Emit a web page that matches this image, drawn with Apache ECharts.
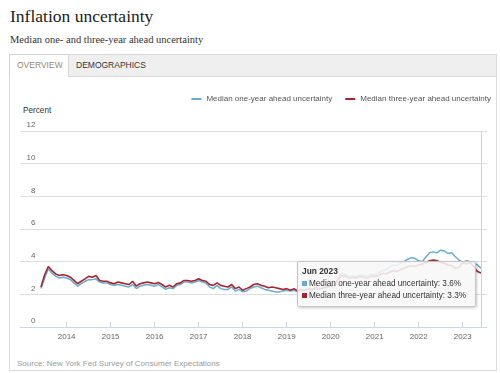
<!DOCTYPE html>
<html>
<head>
<meta charset="utf-8">
<script src="https://cdn.jsdelivr.net/npm/echarts@6/dist/echarts.min.js"></script>
<style>
  html, body { margin: 0; padding: 0; background: #fff; }
  body { width: 500px; height: 373px; position: relative; overflow: hidden; font-family: 'Liberation Sans', Arial, sans-serif; }
  .abs { position: absolute; white-space: nowrap; }
  #title { left: 10px; top: 5px; font: 17.5px/22px 'Liberation Serif', serif; color: #222; }
  #subtitle { left: 10px; top: 33px; font: 10.5px/13px 'Liberation Serif', serif; color: #333; }
  #tabbar { left: 9px; top: 54px; width: 486px; height: 21px; background: #efefef; border: 1px solid #d9d9d9; }
  #tab1 { left: 9px; top: 54px; width: 58px; height: 22px; background: #fff; border: 1px solid #d5d5d5; border-bottom: none; }
  #tab1txt { left: 17px; top: 59px; font-size: 8.5px; line-height: 12px; color: #9b8866; }
  #tab2txt { left: 76px; top: 59px; font-size: 8.5px; line-height: 12px; color: #333; }
  #panel { left: 9px; top: 76px; width: 486px; height: 294px; border: 1px solid #dcdcdc; border-top: none; }
  #percent { left: 23px; top: 105px; font-size: 8.2px; line-height: 12px; color: #333; }
  #source { left: 17px; top: 358px; font-size: 8px; line-height: 12px; color: #999; }
  #chart { position: absolute; left: 0; top: 0; width: 500px; height: 373px; z-index: 2; }
</style>
</head>
<body>
<div class="abs" id="title">Inflation uncertainty</div>
<div class="abs" id="subtitle">Median one- and three-year ahead uncertainty</div>
<div class="abs" id="tabbar"></div>
<div class="abs" id="panel"></div>
<div class="abs" id="tab1"></div>
<div class="abs" id="tab1txt">OVERVIEW</div>
<div class="abs" id="tab2txt">DEMOGRAPHICS</div>
<div class="abs" id="percent">Percent</div>
<div class="abs" id="source">Source: New York Fed Survey of Consumer Expectations</div>
<div id="chart"></div>
<script>
// Months (June 2013 – June 2023)
var startYear = 2013, startMonth = 6, monthCount = 121;
var months = [];
for (var i = 0; i < monthCount; i++) {
  var m = startMonth - 1 + i;
  var y = startYear + Math.floor(m / 12);
  var mm = (m % 12) + 1;
  months.push(y + '-' + (mm < 10 ? '0' + mm : mm));
}

var oneYear = [
  2.35, 3.0, 3.55, 3.3, 3.1, 3.0, 3.05,
  3.0, 2.9, 2.7, 2.5, 2.65, 2.8, 2.9, 2.9, 2.95, 2.75, 2.7, 2.7,
  2.6, 2.55, 2.6, 2.55, 2.5, 2.45, 2.6, 2.35, 2.5, 2.55, 2.6, 2.55,
  2.5, 2.6, 2.45, 2.3, 2.4, 2.35, 2.55, 2.6, 2.75, 2.75, 2.7, 2.75,
  2.85, 2.75, 2.7, 2.45, 2.35, 2.55, 2.35, 2.3, 2.3, 2.45, 2.2, 2.3,
  2.15, 2.2, 2.35, 2.45, 2.5, 2.4, 2.3, 2.25, 2.2, 2.15, 2.15, 2.2,
  2.25, 2.2, 2.25, 2.15, 2.2, 2.2, 2.3, 2.25, 2.3, 2.3, 2.35, 2.4,
  2.45, 2.5, 3.0, 3.3, 3.2, 3.1, 3.15, 3.05, 3.2, 3.15, 3.1, 3.2,
  3.2, 3.3, 3.45, 3.5, 3.65, 3.8, 3.75, 3.9, 4.0, 4.15, 4.25, 4.2,
  4.05, 4.0, 4.3, 4.55, 4.6, 4.55, 4.7, 4.65, 4.5, 4.55, 4.3, 4.1,
  3.95, 4.05, 4.0, 3.95, 3.8, 3.6
];
var threeYear = [
  2.45, 3.2, 3.7, 3.45, 3.25, 3.15, 3.2,
  3.15, 3.05, 2.85, 2.65, 2.8, 2.95, 3.1, 3.05, 3.15, 2.85, 2.8, 2.8,
  2.7, 2.65, 2.75, 2.7, 2.65, 2.6, 2.8, 2.5, 2.65, 2.7, 2.75, 2.7,
  2.65, 2.72, 2.6, 2.45, 2.55, 2.45, 2.65, 2.7, 2.85, 2.85, 2.8, 2.85,
  2.95, 2.85, 2.8, 2.6, 2.55, 2.7, 2.55, 2.5, 2.45, 2.6, 2.35, 2.45,
  2.25, 2.35, 2.45, 2.6, 2.65, 2.55, 2.5, 2.4, 2.45, 2.4, 2.35, 2.3,
  2.35, 2.25, 2.35, 2.2, 2.3, 2.25, 2.35, 2.3, 2.4, 2.35, 2.4, 2.45,
  2.5, 2.55, 2.9, 3.15, 3.1, 3.0, 3.05, 3.0, 3.1, 3.05, 3.0, 3.1,
  3.1, 3.15, 3.3, 3.25, 3.35, 3.45, 3.4, 3.5, 3.6, 3.7, 3.75, 3.7,
  3.8, 3.85, 3.95, 4.05, 4.1, 4.05, 3.95, 3.9, 3.8, 3.75, 3.6, 3.65,
  3.95, 3.85, 3.95, 3.7, 3.4, 3.3
];
var yearTicks = [2014, 2015, 2016, 2017, 2018, 2019, 2020, 2021, 2022, 2023];
var seriesNames = ['Median one-year ahead uncertainty', 'Median three-year ahead uncertainty'];
var monthNames = ['Jan','Feb','Mar','Apr','May','Jun','Jul','Aug','Sep','Oct','Nov','Dec'];

function toYear(s) { var p = s.split('-'); return +p[0] + (+p[1] - 1) / 12; }
var s1 = months.map(function (d, i) { return [toYear(d), oneYear[i]]; });
var s2 = months.map(function (d, i) { return [toYear(d), threeYear[i]]; });

var colors = ['#68acd2', '#a5262f'];
var chart = echarts.init(document.getElementById('chart'), null, { renderer: 'canvas' });
chart.setOption({
  animation: false,
  textStyle: { fontFamily: 'Liberation Sans, Arial, sans-serif' },
  grid: { left: 20, right: 13, top: 131, bottom: 46, containLabel: false },
  legend: {
    right: 4, top: 90, icon: 'rect', itemWidth: 10, itemHeight: 2, itemGap: 13,
    textStyle: { fontSize: 8, color: '#555' },
    data: seriesNames
  },
  tooltip: {
    trigger: 'axis', triggerOn: 'none', alwaysShowContent: true,
    position: [297, 261], transitionDuration: 0,
    backgroundColor: 'rgba(247,247,247,0.87)', borderColor: '#c4c4c4', borderWidth: 1,
    padding: [3, 9, 3, 4],
    extraCssText: 'box-shadow:1px 1px 3px rgba(0,0,0,0.22);border-radius:2px;',
    axisPointer: { type: 'line', animation: false, lineStyle: { color: '#cfcfcf', width: 1, type: 'solid' } },
    formatter: function (params) {
      var idx = params[0].dataIndex;
      var p = months[idx].split('-');
      var head = monthNames[+p[1] - 1] + ' ' + p[0];
      var vals = [oneYear[idx], threeYear[idx]];
      var html = '<div style="font:bold 8.4px/12.5px Liberation Sans,Arial,sans-serif;color:#333">' + head + '</div>';
      for (var k = 0; k < 2; k++) {
        html += '<div style="font:8.2px/12.5px Liberation Sans,Arial,sans-serif;color:#333">' +
          '<span style="display:inline-block;width:5px;height:5px;margin-right:2px;vertical-align:0px;background:' + colors[k] + '"></span>' +
          seriesNames[k] + ': ' + vals[k].toFixed(1) + '%</div>';
      }
      return html;
    }
  },
  xAxis: {
    type: 'value', min: 2012.94, max: 2023.552,
    axisLine: { show: true, lineStyle: { color: '#ccd6eb', width: 1 } },
    axisTick: { show: true, inside: true, length: 5, customValues: yearTicks, lineStyle: { color: '#ccd6eb' } },
    axisLabel: { customValues: yearTicks, color: '#666', fontSize: 8, margin: 6, formatter: function (v) { return String(Math.round(v)); } },
    splitLine: { show: false }
  },
  yAxis: {
    type: 'value', min: 0, max: 12, interval: 2,
    axisLine: { show: false }, axisTick: { show: false },
    axisLabel: { inside: true, align: 'right', verticalAlign: 'bottom', margin: 15.5, padding: [0, 0, 2, 0], color: '#666', fontSize: 8 },
    splitLine: { lineStyle: { color: '#dedede', width: 1 } }
  },
  series: [
    { name: seriesNames[0], type: 'line', data: s1, symbol: 'none', color: colors[0], lineStyle: { width: 1.5 }, emphasis: { disabled: true }, z: 2 },
    { name: seriesNames[1], type: 'line', data: s2, symbol: 'none', color: colors[1], lineStyle: { width: 1.6 }, emphasis: { disabled: true }, z: 3 }
  ]
});
chart.dispatchAction({ type: 'showTip', seriesIndex: 0, dataIndex: monthCount - 1 });
</script>
</body>
</html>
